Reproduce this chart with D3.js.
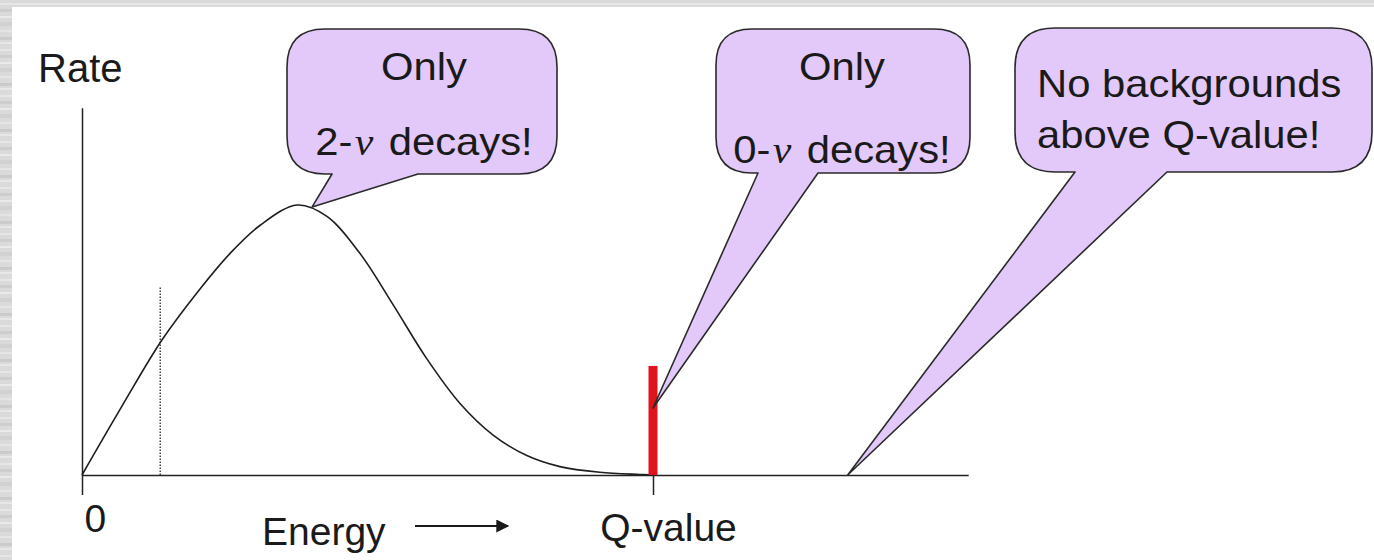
<!DOCTYPE html>
<html lang="en">
<head>
  <meta charset="UTF-8">
  <title>Double beta decay spectrum</title>
  <style>
    body { margin: 0; background: #fff; }
    text { font-family: 'Liberation Sans', Arial, sans-serif; fill: #1a1a1a; }
    .axis path, .axis line { stroke: #222; stroke-width: 1.5px; }
    .nu { font-family: 'Liberation Serif', 'Times New Roman', serif; font-style: italic; }
  </style>
  <script src="https://cdn.jsdelivr.net/npm/d3@7"></script>
</head>
<body>
  <div class="container"></div>
<script>
  // spectrum shape (energy in units of Q, rate relative to peak)
  var energy = [0, 0.070, 0.140, 0.207, 0.259, 0.312, 0.377, 0.429, 0.487, 0.545, 0.604, 0.662, 0.720, 0.779, 0.837, 0.907, 0.977, 1.0];
  var rate   = [0, 0.255, 0.500, 0.690, 0.820, 0.925, 1.000, 0.958, 0.820, 0.630, 0.430, 0.265, 0.148, 0.072, 0.031, 0.010, 0.002, 0];
  var qValue = 1.0;        // red 0-nu line
  var qLineRate = 0.404;
  var thresholdE = 0.137;  // dotted line
  var thresholdRate = 0.696;
  var eMax = 1.552, rMax = 1.36;
  var tickValues = [0, 1];
  var tickLabels = ['0', 'Q-value'];
  // callout texts and where their tails point (data units)
  var calloutLines = [['Only', '2-|decays!'], ['Only', '0-|decays!'], ['No backgrounds', 'above Q-value!']];
  var calloutTips = [[0.403, 0.993], [1.0, 0.248], [1.341, 0]];

  var svgWidth = 1374, svgHeight = 560;
  var svg = d3.select('.container').append('svg')
      .attr('width', svgWidth).attr('height', svgHeight);

  // grey textured frame
  var defs = svg.append('defs');
  var pat = defs.append('pattern').attr('id', 'streaks')
      .attr('patternUnits', 'userSpaceOnUse').attr('width', 60).attr('height', 46);
  pat.append('rect').attr('width', 60).attr('height', 46).attr('fill', '#dadada');
  [[3, 2, '#e6e6e6'], [9, 3, '#cdcdcd'], [16, 2, '#e9e9e9'], [22, 4, '#d1d1d1'], [30, 2, '#e4e4e4'], [37, 3, '#cbcbcb'], [42, 2, '#e7e7e7']]
    .forEach(function(s) { pat.append('rect').attr('y', s[0]).attr('width', 60).attr('height', s[1]).attr('fill', s[2]); });
  svg.append('rect').attr('width', svgWidth).attr('height', svgHeight).attr('fill', 'url(#streaks)');
  svg.append('rect').attr('x', 12).attr('y', 7).attr('width', svgWidth - 12).attr('height', svgHeight - 7).attr('fill', '#fff');

  var x = d3.scaleLinear().domain([0, 1]).range([82, 653]);
  var y = d3.scaleLinear().domain([0, 1]).range([475, 205]);

  // axes
  var xa = x.copy().domain([0, eMax]).range([x(0), x(eMax)]);
  var xAxis = d3.axisBottom(xa).tickValues(tickValues).tickSize(20).tickSizeOuter(0)
      .tickFormat(function(d, i) { return tickLabels[i]; });
  var gx = svg.append('g').attr('class', 'axis')
      .attr('transform', 'translate(0,' + y(0) + ')').call(xAxis);
  gx.selectAll('text').attr('font-size', 39).attr('fill', '#1a1a1a')
      .attr('font-family', "'Liberation Sans', Arial, sans-serif")
      .attr('dy', 0).attr('y', function(d) { return d === 0 ? 57 : 66; })
      .attr('x', function(d) { return d === 0 ? 2 : 15; })
      .style('text-anchor', function(d) { return d === 0 ? 'start' : 'middle'; });
  var ya = y.copy().domain([0, rMax]).range([y(0), y(rMax)]);
  svg.append('g').attr('class', 'axis')
      .attr('transform', 'translate(' + x(0) + ',0)')
      .call(d3.axisLeft(ya).tickValues([]).tickSizeOuter(0));

  svg.append('text').attr('x', 38).attr('y', 82).attr('font-size', 40).text('Rate');
  svg.append('text').attr('x', 262).attr('y', 545).attr('font-size', 39).text('Energy');
  // arrow
  defs.append('marker').attr('id', 'head').attr('viewBox', '0 0 10 10')
      .attr('refX', 9).attr('refY', 5).attr('markerWidth', 18).attr('markerHeight', 13)
      .attr('markerUnits', 'userSpaceOnUse').attr('orient', 'auto')
      .append('path').attr('d', 'M0,0L10,5L0,10Z').attr('fill', '#1a1a1a');
  svg.append('line').attr('x1', 415).attr('x2', 508).attr('y1', 526).attr('y2', 526)
      .attr('stroke', '#1a1a1a').attr('stroke-width', 2.2).attr('marker-end', 'url(#head)');

  // dotted threshold
  svg.append('line').attr('x1', x(thresholdE)).attr('x2', x(thresholdE))
      .attr('y1', y(0)).attr('y2', y(thresholdRate))
      .attr('stroke', '#333').attr('stroke-width', 1.4).attr('stroke-dasharray', '1.5,1.5');

  // 2-nu spectrum
  var pts = energy.map(function(e, i) { return [e, rate[i]]; });
  svg.append('path').datum(pts)
      .attr('d', d3.line().x(function(d) { return x(d[0]); }).y(function(d) { return y(d[1]); }).curve(d3.curveCatmullRom.alpha(0.5)))
      .attr('fill', 'none').attr('stroke', '#1e1e1e').attr('stroke-width', 1.6);

  // 0-nu line
  svg.append('rect').attr('x', x(qValue) - 4.5).attr('width', 9)
      .attr('y', y(qLineRate)).attr('height', y(0) - y(qLineRate)).attr('fill', '#e0141c');

  // callouts (box layout in pixels, tail tip from data)
  var boxes = [
    {x: 287, y: 29, w: 270, h: 145, r: 38, base: [332, 418], anchor: 'middle', cx: 424, lines: [80, 155]},
    {x: 716, y: 29, w: 254, h: 144, r: 36, base: [758, 818], anchor: 'middle', cx: 842, lines: [80, 163]},
    {x: 1015, y: 28, w: 357, h: 144, r: 40, base: [1075, 1167], anchor: 'start', cx: 1037, lines: [97, 148]}
  ];
  function bubblePath(b, tip) {
    var p = d3.path(), x0 = b.x, y0 = b.y, x1 = b.x + b.w, y1 = b.y + b.h, r = b.r;
    p.moveTo(x0 + r, y0);
    p.lineTo(x1 - r, y0);
    p.quadraticCurveTo(x1, y0, x1, y0 + r);
    p.lineTo(x1, y1 - r);
    p.quadraticCurveTo(x1, y1, x1 - r, y1);
    p.lineTo(b.base[1], y1);
    p.lineTo(tip[0], tip[1]);
    p.lineTo(b.base[0], y1);
    p.lineTo(x0 + r, y1);
    p.quadraticCurveTo(x0, y1, x0, y1 - r);
    p.lineTo(x0, y0 + r);
    p.quadraticCurveTo(x0, y0, x0 + r, y0);
    p.closePath();
    return p.toString();
  }
  var sx = 1.1;
  boxes.forEach(function(b, i) {
    var tip = [x(calloutTips[i][0]), y(calloutTips[i][1])];
    svg.append('path').attr('d', bubblePath(b, tip))
        .attr('fill', '#e2c9f9').attr('stroke', '#2a2a2a').attr('stroke-width', 1.6)
        .attr('stroke-linejoin', 'round');
    calloutLines[i].forEach(function(line, j) {
      var t = svg.append('text')
          .attr('transform', 'translate(' + b.cx + ',' + b.lines[j] + ') scale(' + sx + ',1)')
          .attr('font-size', 38).style('text-anchor', b.anchor);
      var parts = line.split('|');
      if (parts.length > 1) {
        t.append('tspan').text(parts[0]);
        t.append('tspan').attr('class', 'nu').attr('dx', 2).text('\u03bd');
        t.append('tspan').attr('dx', 14).text(parts[1]);
      } else {
        t.text(line);
      }
    });
  });
</script>
</body>
</html>
